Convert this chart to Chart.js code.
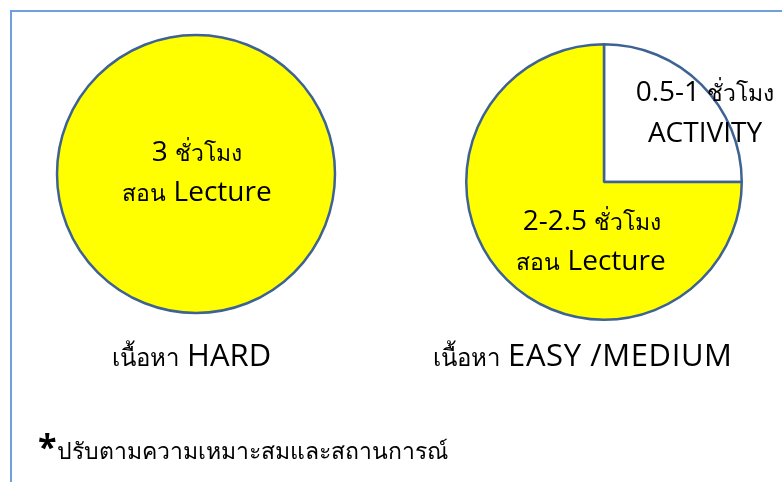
<!DOCTYPE html>
<html><head><meta charset="utf-8">
<script src="https://cdn.jsdelivr.net/npm/chart.js@4/dist/chart.umd.min.js"></script>
<style>
html,body{margin:0;padding:0;background:#fff;}
#wrap{position:relative;width:782px;height:482px;overflow:hidden;}
#frame{position:absolute;left:10px;top:10px;width:800px;height:500px;border-left:2px solid #6FA0DC;border-top:2px solid #6FA0DC;}
.box{position:absolute;top:0;width:391px;height:482px;}
.lbl{position:absolute;font-family:'Open Sans','Noto Sans',sans-serif;color:#000;white-space:nowrap;font-weight:500;}
.th{font-weight:400;}
</style></head>
<body><div id="wrap"><div id="frame"></div>
<div class="box" style="left:0"><canvas id="c1"></canvas></div>
<div class="box" style="left:391px"><canvas id="c2"></canvas></div>
<div class="lbl" style="left:112px;top:333px;font-size:31px"><span class="th" style="font-size:24px">เนื้อหา</span> HARD</div>
<div class="lbl" style="left:433px;top:333px;font-size:31px"><span class="th" style="font-size:24px">เนื้อหา</span> <span style="letter-spacing:0.6px">EASY /MEDIUM</span></div>
<div class="lbl" style="left:38px;top:423px;font-size:23px"><span style="font-size:34px;font-weight:bold">*</span><span class="th">ปรับตามความเหมาะสมและสถานการณ์</span></div>
</div>
<script>
// Data
const hardCategories = ['สอน Lecture'];
const hardHours = [3];
const hardLabelLines = [['3 ชั่วโมง', 'สอน Lecture']];
const easyCategories = ['ACTIVITY', 'สอน Lecture'];
const easyHours = [0.75, 2.25]; // 0.5-1 h and 2-2.5 h
const easyLabelLines = [['0.5-1 ชั่วโมง', 'ACTIVITY'], ['2-2.5 ชั่วโมง', 'สอน Lecture']];
const sliceColors = { 'ACTIVITY': '#FFFFFF', 'สอน Lecture': '#FFFF00' };

const LATIN_FONT = '500 28px "Open Sans", "Noto Sans", sans-serif';
const THAI_FONT = '400 23px "Open Sans", "Noto Sans", sans-serif';

function runs(text) {
  const out = [];
  const re = /[\u0E00-\u0E7F]+|[^\u0E00-\u0E7F]+/g;
  let m;
  while ((m = re.exec(text))) out.push({ t: m[0], thai: /[\u0E00-\u0E7F]/.test(m[0]) });
  return out;
}

const sliceText = {
  id: 'sliceText',
  afterDatasetsDraw(chart, args, opts) {
    const meta = chart.getDatasetMeta(0);
    const ctx = chart.ctx;
    ctx.save();
    // outline for a pie made of one full slice (avoids the radial seam)
    if (meta.data.length === 1) {
      const a = meta.data[0];
      ctx.beginPath();
      ctx.arc(a.x, a.y, a.outerRadius, 0, Math.PI * 2);
      ctx.strokeStyle = opts.outline;
      ctx.lineWidth = 2.5;
      ctx.stroke();
    }
    ctx.fillStyle = '#000';
    ctx.textAlign = 'left';
    ctx.textBaseline = 'alphabetic';
    meta.data.forEach((arc, i) => {
      const lines = opts.lines[i];
      const offs = opts.offsets[i];
      lines.forEach((ln, j) => {
        const rs = runs(ln);
        let w = 0;
        rs.forEach(r => { ctx.font = r.thai ? THAI_FONT : LATIN_FONT; r.w = ctx.measureText(r.t).width; w += r.w; });
        let x = arc.x + offs[j][0] - w / 2;
        const y = arc.y + offs[j][1];
        rs.forEach(r => { ctx.font = r.thai ? THAI_FONT : LATIN_FONT; ctx.fillText(r.t, x, y); x += r.w; });
      });
    });
    ctx.restore();
  }
};

function makePie(id, cats, vals, lines, offsets, padding) {
  const single = vals.length === 1;
  return new Chart(document.getElementById(id), {
    type: 'pie',
    data: {
      labels: cats,
      datasets: [{
        data: vals,
        backgroundColor: cats.map(c => sliceColors[c]),
        borderColor: '#3D6293',
        borderWidth: single ? 0 : 2.5
      }]
    },
    options: {
      responsive: true,
      maintainAspectRatio: false,
      animation: false,
      layout: { padding: padding },
      plugins: {
        legend: { display: false },
        tooltip: { enabled: false },
        sliceText: { lines: lines, offsets: offsets, outline: '#3D6293' }
      }
    },
    plugins: [sliceText]
  });
}

makePie('c1', hardCategories, hardHours, hardLabelLines,
  [[[1, -13], [1, 27]]],
  { left: 57, right: 56, top: 35, bottom: 169 });
makePie('c2', easyCategories, easyHours, easyLabelLines,
  [[[101, -81], [101, -40]], [[-12, 48], [-13, 88]]],
  { left: 74, right: 39, top: 43, bottom: 161 });
</script>
</body></html>
